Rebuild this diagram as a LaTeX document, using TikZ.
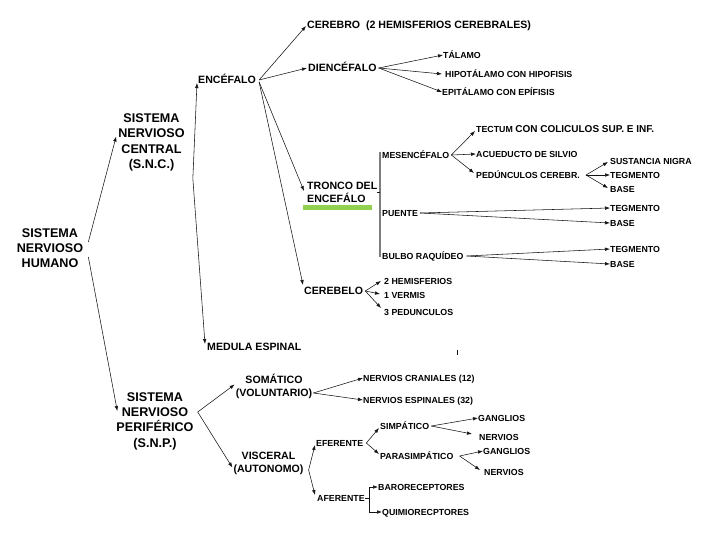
\documentclass[tikz,border=0pt]{standalone}
\usepackage{fontspec}
\setmainfont{Liberation Sans}
\usepackage{tikz}
\usetikzlibrary{arrows.meta, calc}
\definecolor{mydark}{RGB}{20,20,20}
\definecolor{mygray}{RGB}{125,125,125}
\definecolor{mygreen}{RGB}{146,208,80}
\tikzset{
  bigtitle/.style={align=center, inner sep=0pt,
    font=\fontsize{12.6}{15.3}\selectfont\bfseries},
  midblock/.style={align=center, inner sep=0pt,
    font=\fontsize{10.6}{12.8}\selectfont\bfseries},
  midlabel/.style={anchor=west, inner sep=0pt, text height=7.5pt, text depth=0pt,
    font=\fontsize{10.6}{12}\selectfont\bfseries},
  leaf/.style={anchor=west, inner sep=0pt, text height=6.3pt, text depth=0pt,
    font=\fontsize{8.8}{10}\selectfont\bfseries},
  arrow/.style={-{Latex[length=5pt,width=3.6pt]}, line width=0.55pt, color=mydark},
  line/.style={line width=0.55pt, color=mydark},
  bar/.style={line width=1.2pt, color=mygray}
}
\begin{document}
\begin{tikzpicture}[x=1pt, y=-1pt]
  \path[fill=white, use as bounding box] (0,0) rectangle (720,540);

  \node[bigtitle] (humano) at (50,248) {SISTEMA\\NERVIOSO\\HUMANO};
  \node[bigtitle] (snc) at (151.5,142.5) {SISTEMA\\NERVIOSO\\CENTRAL\\(S.N.C.)};
  \node[bigtitle] (snp) at (155,421) {SISTEMA\\NERVIOSO\\PERIFÉRICO\\(S.N.P.)};

  \node[midlabel] (encefalo) at (198,80) {ENCÉFALO};
  \node[midlabel] (cerebro) at (307,25) {CEREBRO\ \ (2 HEMISFERIOS CEREBRALES)};
  \node[midlabel] (diencefalo) at (308,68) {DIENCÉFALO};
  \node[inner sep=0pt, anchor=west, align=left,
    font=\fontsize{10.6}{12.8}\selectfont\bfseries] (tronco) at (307,192) {TRONCO DEL\\ENCEFÁLO};
  \node[midlabel] (cerebelo) at (304,291) {CEREBELO};
  \node[midlabel] (medula) at (207,347) {MEDULA ESPINAL};
  \fill[mygreen] (303,205) rectangle (372,210);

  \node[leaf] (talamo) at (443,55) {TÁLAMO};
  \node[leaf] (hipotalamo) at (445,74) {HIPOTÁLAMO CON HIPOFISIS};
  \node[leaf] (epitalamo) at (442,92) {EPITÁLAMO CON EPÍFISIS};

  \node[leaf] (mesencefalo) at (382,155) {MESENCÉFALO};
  \node[leaf] (puente) at (382,213) {PUENTE};
  \node[leaf] (bulbo) at (382,256) {BULBO RAQUÍDEO};
  \node[leaf] (tectum) at (476,129) {TECTUM \fontsize{10}{10}\selectfont CON COLICULOS SUP. E INF.};
  \node[leaf] (acueducto) at (476,154) {ACUEDUCTO DE SILVIO};
  \node[leaf] (pedunculos) at (476,175) {PEDÚNCULOS CEREBR.};
  \node[leaf] (sustancia) at (610,161) {SUSTANCIA NIGRA};
  \node[leaf] (tegmentoa) at (610,175) {TEGMENTO};
  \node[leaf] (basea) at (610,189) {BASE};
  \node[leaf] (tegmentob) at (610,208) {TEGMENTO};
  \node[leaf] (baseb) at (610,223) {BASE};
  \node[leaf] (tegmentoc) at (610,249) {TEGMENTO};
  \node[leaf] (basec) at (610,264) {BASE};

  \node[leaf] (hemisferios) at (384,281) {2 HEMISFERIOS};
  \node[leaf] (vermis) at (384,295) {1 VERMIS};
  \node[leaf] (pedunculosb) at (384,312) {3 PEDUNCULOS};

  \node[midblock] (somatico) at (274,386.5) {SOMÁTICO\\(VOLUNTARIO)};
  \node[midblock] (visceral) at (268.5,463.5) {VISCERAL\\(AUTONOMO)};
  \node[leaf] (craneales) at (363,378) {NERVIOS CRANIALES (12)};
  \node[leaf] (espinales) at (363,400) {NERVIOS ESPINALES (32)};
  \node[leaf] (eferente) at (316,443) {EFERENTE};
  \node[leaf] (aferente) at (317,498) {AFERENTE};
  \node[leaf] (simpatico) at (380,426) {SIMPÁTICO};
  \node[leaf] (parasimpatico) at (380,456) {PARASIMPÁTICO};
  \node[leaf] (gangliosa) at (478,418) {GANGLIOS};
  \node[leaf] (nerviosa) at (479,437) {NERVIOS};
  \node[leaf] (gangliosb) at (483,451) {GANGLIOS};
  \node[leaf] (nerviosb) at (484,472) {NERVIOS};
  \node[leaf] (baro) at (378,487) {BARORECEPTORES};
  \node[leaf] (quimio) at (382,512) {QUIMIORECPTORES};

  \coordinate (sncfork) at ([shift={(8,36)}]snc.east);
  \coordinate (afork) at ([xshift=4pt]aferente.east);

  \draw[arrow] ([shift={(5,-6)}]humano.east) -- ([shift={(-2,-6)}]snc.west);
  \draw[arrow] ([shift={(5,9)}]humano.east) -- ([shift={(1,-10)}]snp.west);

  \draw[arrow] (sncfork) -- ([shift={(-1,3)}]encefalo.west);
  \draw[arrow] (sncfork) -- ([shift={(-2,-3)}]medula.west);

  \draw[arrow] ([shift={(3,0)}]encefalo.east) -- ([shift={(-1,1)}]cerebro.west);
  \draw[arrow] ([shift={(3,0)}]encefalo.east) -- ([shift={(-1,0)}]diencefalo.west);
  \draw[arrow] ([shift={(3,2)}]encefalo.east) -- ([shift={(-3,-1)}]tronco.west);
  \draw[arrow] ([shift={(3,2)}]encefalo.east) -- ([shift={(-1,-6)}]cerebelo.west);

  \draw[arrow] ([xshift=2pt]diencefalo.east) -- (talamo.west);
  \draw[arrow] ([xshift=2pt]diencefalo.east) -- ([xshift=-3pt]hipotalamo.west);
  \draw[arrow] ([xshift=2pt]diencefalo.east) -- (epitalamo.west);

  \draw[bar] ([shift={(-2,-3)}]mesencefalo.west) -- ([shift={(-2,1)}]bulbo.west);
  \draw[line] (tronco.east) -- ([xshift=-2pt]tronco.east -| mesencefalo.west);

  \draw[arrow] ([xshift=2pt]mesencefalo.east) -- ([shift={(-1,2)}]tectum.west);
  \draw[arrow] ([xshift=2pt]mesencefalo.east) -- (acueducto.west);
  \draw[arrow] ([xshift=2pt]mesencefalo.east) -- ([shift={(-2,-2)}]pedunculos.west);
  \draw[arrow] ([xshift=6pt]pedunculos.east) -- ([shift={(-2,1)}]sustancia.west);
  \draw[arrow] ([xshift=6pt]pedunculos.east) -- (tegmentoa.west);
  \draw[arrow] ([xshift=6pt]pedunculos.east) -- ([shift={(-2,-1)}]basea.west);
  \draw[arrow] ([xshift=2pt]puente.east) -- (tegmentob.west);
  \draw[arrow] ([xshift=2pt]puente.east) -- (baseb.west);
  \draw[arrow] ([xshift=3pt]bulbo.east) -- (tegmentoc.west);
  \draw[arrow] ([xshift=3pt]bulbo.east) -- (basec.west);

  \draw[arrow] ([xshift=2pt]cerebelo.east) -- ([shift={(-3,0)}]hemisferios.west);
  \draw[arrow] ([xshift=2pt]cerebelo.east) -- ([shift={(-4,-1)}]vermis.west);
  \draw[arrow] ([xshift=2pt]cerebelo.east) -- ([shift={(-3,-4)}]pedunculosb.west);

  \draw[line] (457,350) -- (457,355);

  \draw[arrow] ([shift={(4,-9)}]snp.east) -- ([shift={(-1,-2)}]somatico.west);
  \draw[arrow] ([shift={(4,-9)}]snp.east) -- ([shift={(-1,4)}]visceral.west);
  \draw[arrow] ([shift={(1,6.5)}]somatico.east) -- (craneales.west);
  \draw[arrow] ([shift={(1,6.5)}]somatico.east) -- (espinales.west);
  \draw[arrow] ([shift={(5,6.5)}]visceral.east) -- ([shift={(-1,2)}]eferente.west);
  \draw[arrow] ([shift={(5,6.5)}]visceral.east) -- ([shift={(-2,-3)}]aferente.west);

  \draw[arrow] ([xshift=3pt]eferente.east) -- ([shift={(-1,2)}]simpatico.west);
  \draw[arrow] ([xshift=3pt]eferente.east) -- ([shift={(-1,-2)}]parasimpatico.west);
  \draw[arrow] ([xshift=2pt]simpatico.east) -- (gangliosa.west);
  \draw[arrow] ([xshift=2pt]simpatico.east) -- ([shift={(-7,-3)}]nerviosa.west);
  \draw[arrow] ([xshift=6pt]parasimpatico.east) -- (gangliosb.west);
  \draw[arrow] ([xshift=6pt]parasimpatico.east) -- ([shift={(-4,-2)}]nerviosb.west);

  \draw[line] (aferente.east) -- (afork);
  \draw[arrow] (afork) |- (baro.west);
  \draw[arrow] (afork) |- (quimio.west);
\end{tikzpicture}
\end{document}
